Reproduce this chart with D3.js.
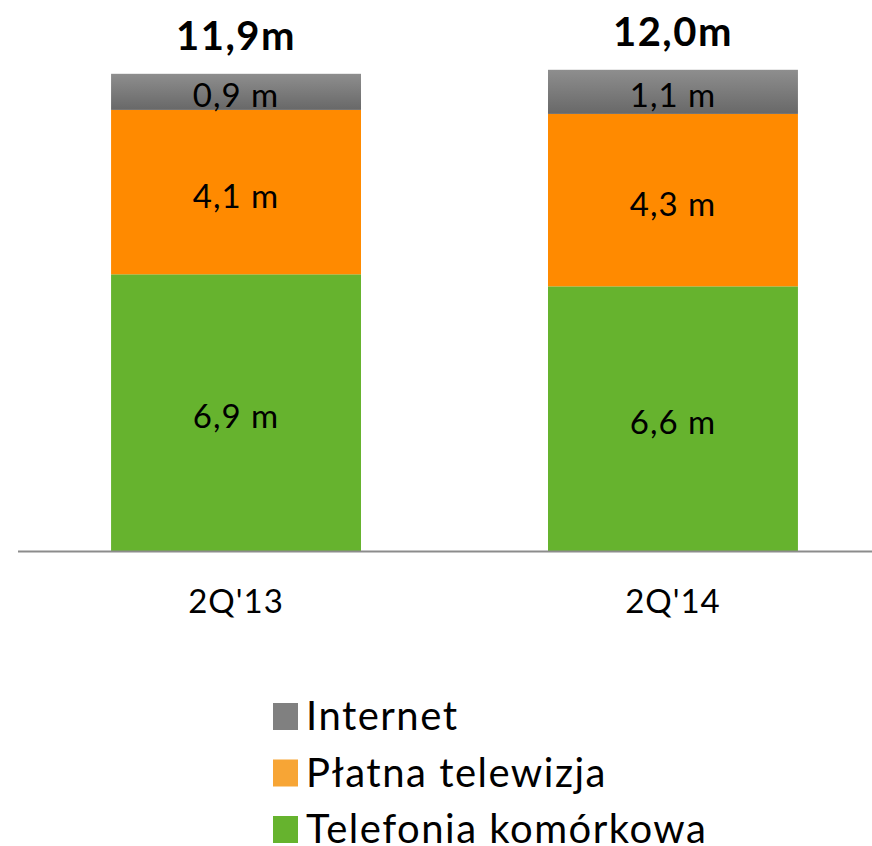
<!DOCTYPE html>
<html>
<head>
<meta charset="utf-8">
<script src="https://cdn.jsdelivr.net/npm/d3@7"></script>
<style>
  body { margin: 0; background: #fff; }
  svg { font-family: Lato, "Open Sans", sans-serif; }
</style>
</head>
<body>
<svg id="chart" width="872" height="846"></svg>
<script>
let categories = ["2Q'13", "2Q'14"];
let seriesNames = ["Telefonia komórkowa", "Płatna telewizja", "Internet"];
let mobile = [6.9, 6.6];
let payTv = [4.1, 4.3];
let internet = [0.9, 1.1];
let totals = ["11,9m", "12,0m"];
let valueLabels = [["6,9 m", "6,6 m"], ["4,1 m", "4,3 m"], ["0,9 m", "1,1 m"]];

let colors = ["#66b32e", "#ff8a00", "url(#grayGrad)"];
let legendColors = ["#66b32e", "#f7a535", "#808080"];

let svg = d3.select('#chart');

let baseline = 551;

let rows = categories.map((c, i) => ({ cat: c, mobile: mobile[i], payTv: payTv[i], internet: internet[i] }));
let stack = d3.stack().keys(["mobile", "payTv", "internet"])(rows);

let xScale = d3.scaleBand()
  .domain(categories)
  .range([18, 891])
  .paddingInner(0.428)
  .paddingOuter(0.213);

let yScale = d3.scaleLinear()
  .domain([0, 12])
  .range([baseline, baseline - 12 * 40.1]);

let defs = svg.append('defs');
let grad = defs.append('linearGradient')
  .attr('id', 'grayGrad')
  .attr('x1', 0).attr('y1', 0).attr('x2', 0).attr('y2', 1);
grad.append('stop').attr('offset', '0%').attr('stop-color', '#8e8e8e');
grad.append('stop').attr('offset', '100%').attr('stop-color', '#686868');

let layers = svg.selectAll('.layer')
  .data(stack)
  .enter()
  .append('g')
  .attr('class', 'layer')
  .attr('fill', (d, i) => colors[i]);

layers.selectAll('rect')
  .data(d => d)
  .enter()
  .append('rect')
  .attr('x', d => xScale(d.data.cat))
  .attr('width', xScale.bandwidth())
  .attr('y', d => yScale(d[1]))
  .attr('height', d => yScale(d[0]) - yScale(d[1]));

layers.each(function (layer, li) {
  d3.select(this).selectAll('text')
    .data(layer)
    .enter()
    .append('text')
    .attr('x', d => xScale(d.data.cat) + xScale.bandwidth() / 2)
    .attr('y', d => (yScale(d[0]) + yScale(d[1])) / 2)
    .attr('dy', '0.47em')
    .attr('text-anchor', 'middle')
    .attr('fill', '#000')
    .style('font-size', '33px')
    .style('letter-spacing', '1px')
    .text((d, i) => valueLabels[li][i]);
});

// totals above the bars
let topLayer = stack[stack.length - 1];
svg.selectAll('.total')
  .data(topLayer)
  .enter()
  .append('text')
  .attr('class', 'total')
  .attr('x', d => xScale(d.data.cat) + xScale.bandwidth() / 2)
  .attr('y', d => yScale(d[1]) - 24)
  .attr('text-anchor', 'middle')
  .style('font-size', '40px')
  .style('font-weight', 'bold')
  .style('letter-spacing', '1.5px')
  .text((d, i) => totals[i]);

// baseline
svg.append('line')
  .attr('x1', 18).attr('x2', 872)
  .attr('y1', baseline + 0.5).attr('y2', baseline + 0.5)
  .attr('stroke', '#8c8c8c')
  .attr('stroke-width', 2);

// category labels
svg.selectAll('.cat')
  .data(categories)
  .enter()
  .append('text')
  .attr('class', 'cat')
  .attr('x', d => xScale(d) + xScale.bandwidth() / 2)
  .attr('y', 613)
  .attr('text-anchor', 'middle')
  .style('font-size', '33px')
  .style('letter-spacing', '1px')
  .text(d => d);

// legend
let legendOrder = [2, 1, 0];
let legend = svg.selectAll('.legend')
  .data(legendOrder)
  .enter()
  .append('g')
  .attr('class', 'legend')
  .attr('transform', (d, i) => `translate(273, ${716 + i * 56.5})`);

legend.append('rect')
  .attr('x', 0)
  .attr('y', -13)
  .attr('width', 25)
  .attr('height', 27)
  .attr('fill', d => legendColors[d]);

legend.append('text')
  .attr('x', 33)
  .attr('y', 0)
  .attr('dy', '0.36em')
  .style('font-size', '40px')
  .style('letter-spacing', '1.5px')
  .text(d => seriesNames[d]);
</script>
</body>
</html>
